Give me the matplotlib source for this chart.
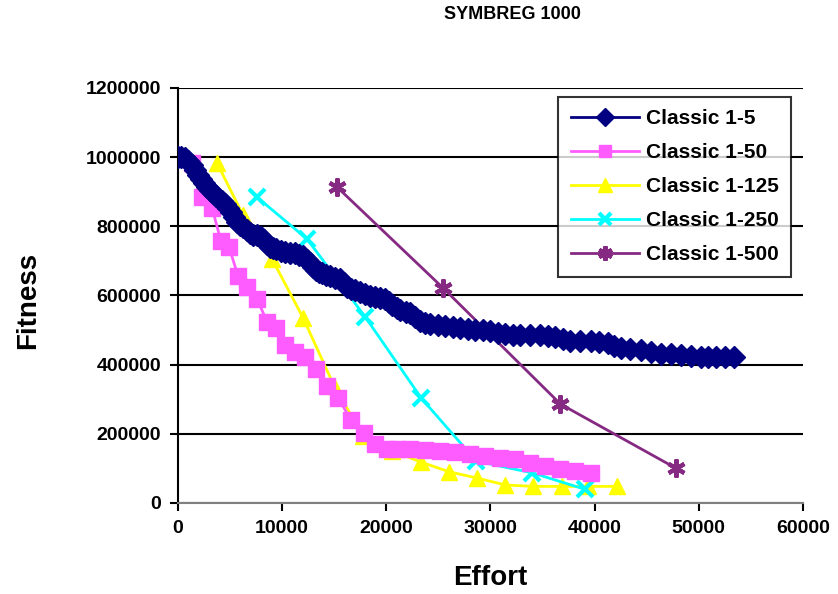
import matplotlib
matplotlib.use("Agg")
import matplotlib.pyplot as plt
from matplotlib.ticker import FuncFormatter

plt.rcParams['font.family'] = ['Liberation Sans', 'DejaVu Sans']
plt.rcParams['font.weight'] = 'bold'

# Classic 1-5
eff_5 = [0, 330, 670, 1000, 1350, 1650, 1920, 2200, 2500, 2800, 3080, 3350, 3650,
         3950, 4230, 4500, 4810, 5100, 5380, 5670, 5950, 6250, 6600, 6920, 7250,
         7600, 7950, 8270, 8550, 8850, 9150, 9420, 9850, 10290, 10750, 11250,
         11650, 12020, 12350, 12690, 13000, 13270, 13550, 13850, 14250, 14620,
         15100, 15580, 15900, 16250, 16650, 17020, 17500, 17980, 18450, 18940,
         19400, 19900, 20250, 20580, 21000, 21350, 21850, 22310, 22800, 23270,
         23750, 24230, 24950, 25670, 26400, 27120, 27850, 28560, 29300, 30000,
         30700, 31440, 32150, 32880, 33850, 34810, 35550, 36250, 36950, 37690,
         38650, 39620, 40450, 41250, 41900, 42500, 43450, 44420, 45400, 46350,
         47300, 48270, 49250, 50190, 50900, 51630, 52500, 53370]
fit_5 = [1000000, 999000, 997000, 990000, 977000, 962000, 948000, 936000, 925000,
         915000, 905000, 896000, 887000, 880000, 873000, 864000, 853000, 840000,
         827000, 812000, 805000, 798000, 789000, 780000, 776000, 774000, 768000,
         760000, 750000, 740000, 737000, 734000, 728000, 725000, 724000, 722000,
         718000, 714000, 704000, 694000, 682000, 673000, 668000, 665000, 660000,
         656000, 650000, 647000, 636000, 624000, 620000, 616000, 610000, 604000,
         598000, 595000, 592000, 590000, 580000, 572000, 565000, 558000, 553000,
         549000, 537000, 526000, 520000, 517000, 514000, 512000, 509000, 506000,
         503000, 500000, 499000, 497000, 492000, 488000, 487000, 486000, 486000,
         486000, 483000, 480000, 474000, 468000, 468000, 468000, 465000, 462000,
         455000, 448000, 445000, 442000, 436000, 431000, 430000, 428000, 425000,
         422000, 422000, 422000, 422000, 422000]

# Classic 1-50
eff_50 = [1350, 2310, 3270, 4130, 4900, 5770, 6630, 7600, 8560, 9420, 10290, 11250,
          12210, 13270, 14330, 15380, 16630, 17880, 18940, 20100, 21060, 22300,
          23750, 25190, 26630, 28080, 29520, 30960, 32400, 33850, 35290, 36730,
          38170, 39620]
fit_50 = [983000, 884000, 853000, 757000, 740000, 656000, 624000, 590000, 523000,
          506000, 457000, 436000, 422000, 387000, 338000, 303000, 240000, 202000,
          170000, 156000, 156000, 156000, 153000, 150000, 147000, 142000, 136000,
          130000, 127000, 116000, 107000, 98000, 92000, 87000]

# Classic 1-125
eff_125 = [3750, 6250, 9040, 12020, 15000, 17790, 20580, 23370, 26060, 28750,
           31440, 34130, 36830, 39420, 42120]
fit_125 = [983000, 832000, 705000, 535000, 338000, 194000, 150000, 118000, 90000,
           72000, 52000, 48000, 48000, 48000, 48000]

# Classic 1-250
eff_250 = [7600, 12400, 17980, 23370, 28650, 34040, 39040]
fit_250 = [884000, 763000, 538000, 303000, 121000, 87000, 40000]

# Classic 1-500
eff_500 = [15290, 25480, 36730, 47790]
fit_500 = [913000, 621000, 286000, 101000]

fig = plt.figure(figsize=(8.38, 5.94), dpi=100)
ax = fig.add_axes([0.2124, 0.1532, 0.7456, 0.6987])

ax.plot(eff_5, fit_5, color='#000080', lw=2, marker='D', ms=11, mec='#000080',
        label='Classic 1-5', zorder=5)
ax.plot(eff_50, fit_50, color='#FF5CFF', lw=2, marker='s', ms=11, mec='#FF5CFF',
        label='Classic 1-50', zorder=4)
ax.plot(eff_125, fit_125, color='#FFFF00', lw=2, marker='^', ms=12, mec='#FFFF00',
        label='Classic 1-125', zorder=3)
ax.plot(eff_250, fit_250, color='#00FFFF', lw=2, marker='x', ms=11, mew=3,
        label='Classic 1-250', zorder=3)
ax.plot(eff_500, fit_500, color='#852982', lw=2, marker=(6, 2, 0), ms=13, mew=3,
        label='Classic 1-500', zorder=3)

ax.set_xlim(0, 60000)
ax.set_ylim(0, 1200000)
ax.set_xticks(range(0, 60001, 10000))
ax.set_yticks(range(0, 1200001, 200000))
ax.yaxis.set_major_formatter(FuncFormatter(lambda v, p: '%d' % v))
ax.tick_params(labelsize=14, length=6, width=1.5, direction='out', pad=6)
ax.yaxis.grid(True, color='black', lw=1.5)
ax.set_axisbelow(True)
for s in ['top', 'right']:
    ax.spines[s].set_visible(False)
ax.spines['left'].set_linewidth(1.5)
ax.spines['bottom'].set_linewidth(1.5)
ax.spines['bottom'].set_color('#808080')

fig.text(0.612, 0.975, 'SYMBREG 1000', ha='center', va='center', fontsize=13,
         fontweight='bold')
fig.text(0.033, 0.495, 'Fitness', ha='center', va='center', rotation=90,
         fontsize=20, fontweight='bold')
fig.text(0.585, 0.027, 'Effort', ha='center', va='center', fontsize=20,
         fontweight='bold')

leg = ax.legend(loc='upper left', bbox_to_anchor=(558 / 838, 1 - 97 / 594),
                bbox_transform=fig.transFigure, fontsize=15, frameon=True,
                fancybox=False, edgecolor='black', handlelength=3.3,
                labelspacing=0.72, borderpad=0.6, handletextpad=0.3,
                borderaxespad=0, markerscale=0.8)
leg.get_frame().set_linewidth(1.5)

fig.savefig('out.png', dpi=100)
